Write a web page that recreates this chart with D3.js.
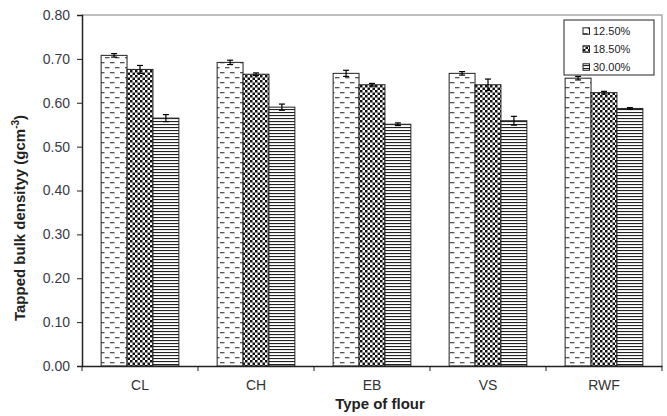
<!DOCTYPE html>
<html>
<head>
<meta charset="utf-8">
<script src="https://cdn.jsdelivr.net/npm/d3@7"></script>
<style>
  body { margin: 0; background: #fff; }
  svg { display: block; font-family: 'Liberation Sans', Arial, sans-serif; }
</style>
</head>
<body>
<div id="graf"></div>
<script>
const flours = ['CL', 'CH', 'EB', 'VS', 'RWF']
const series = ['12.50%', '18.50%', '30.00%']
const val125 = [0.708, 0.692, 0.667, 0.667, 0.656]
const val185 = [0.676, 0.665, 0.641, 0.641, 0.623]
const val300 = [0.565, 0.590, 0.551, 0.559, 0.587]
const err125 = [0.004, 0.005, 0.007, 0.004, 0.004]
const err185 = [0.009, 0.003, 0.003, 0.013, 0.003]
const err300 = [0.008, 0.007, 0.003, 0.010, 0.002]
const yTicks = [0, 0.1, 0.2, 0.3, 0.4, 0.5, 0.6, 0.7, 0.8]

const ancho = 667
const alto = 416
const margin = { top: 15, bottom: 50, left: 82, right: 5 }

const svg = d3.select('#graf')
  .append('svg')
  .attr('width', ancho)
  .attr('height', alto)

// patrones de relleno
const defs = svg.append('defs')

const p1 = defs.append('pattern')
  .attr('id', 'pat0')
  .attr('patternUnits', 'userSpaceOnUse')
  .attr('width', 10).attr('height', 10)
p1.append('rect').attr('width', 10).attr('height', 10).attr('fill', '#fff')
p1.append('rect').attr('x', 0).attr('y', 2).attr('width', 4.5).attr('height', 1.3).attr('fill', '#555')
p1.append('rect').attr('x', 5).attr('y', 7).attr('width', 4.5).attr('height', 1.3).attr('fill', '#555')

const p2 = defs.append('pattern')
  .attr('id', 'pat1')
  .attr('patternUnits', 'userSpaceOnUse')
  .attr('width', 5).attr('height', 5)
p2.append('rect').attr('width', 5).attr('height', 5).attr('fill', '#fff')
p2.append('rect').attr('width', 2.5).attr('height', 2.5).attr('fill', '#111')
p2.append('rect').attr('x', 2.5).attr('y', 2.5).attr('width', 2.5).attr('height', 2.5).attr('fill', '#111')

const p3 = defs.append('pattern')
  .attr('id', 'pat2')
  .attr('patternUnits', 'userSpaceOnUse')
  .attr('width', 6).attr('height', 3)
p3.append('rect').attr('width', 6).attr('height', 3).attr('fill', '#fff')
p3.append('rect').attr('y', 1).attr('width', 6).attr('height', 1.1).attr('fill', '#222')

const y = d3.scaleLinear()
  .domain([0, 0.8])
  .range([alto - margin.bottom, margin.top])

const x = d3.scaleBand()
  .domain(flours)
  .range([margin.left, ancho - margin.right])
  .paddingInner(0)
  .paddingOuter(0)

const grupo = x.bandwidth() * 0.67
const x1 = d3.scaleBand()
  .domain(series)
  .range([(x.bandwidth() - grupo) / 2, (x.bandwidth() + grupo) / 2])

const datos = []
flours.forEach((f, i) => {
  datos.push({ f: f, s: series[0], v: val125[i], e: err125[i] })
  datos.push({ f: f, s: series[1], v: val185[i], e: err185[i] })
  datos.push({ f: f, s: series[2], v: val300[i], e: err300[i] })
})

// marco gris
svg.append('path')
  .attr('d', `M${margin.left},${margin.top}H${ancho - margin.right}V${y(0)}`)
  .attr('fill', 'none')
  .attr('stroke', '#aaa')
  .attr('stroke-width', 1.5)

// barras
svg.selectAll('rect.bar')
  .data(datos)
  .enter()
  .append('rect')
  .attr('class', 'bar')
  .attr('x', d => x(d.f) + x1(d.s))
  .attr('y', d => y(d.v))
  .attr('width', x1.bandwidth())
  .attr('height', d => y(0) - y(d.v))
  .attr('fill', d => `url(#pat${series.indexOf(d.s)})`)
  .attr('stroke', '#222')
  .attr('stroke-width', 1)

// barras de error
const eb = svg.selectAll('g.err')
  .data(datos)
  .enter()
  .append('g')
  .attr('class', 'err')
  .attr('stroke', '#000')
  .attr('stroke-width', 1.2)
const cx = d => x(d.f) + x1(d.s) + x1.bandwidth() / 2
eb.append('line')
  .attr('x1', cx).attr('x2', cx)
  .attr('y1', d => y(d.v + d.e)).attr('y2', d => y(d.v - d.e))
eb.append('line')
  .attr('x1', d => cx(d) - 3).attr('x2', d => cx(d) + 3)
  .attr('y1', d => y(d.v + d.e)).attr('y2', d => y(d.v + d.e))
eb.append('line')
  .attr('x1', d => cx(d) - 3).attr('x2', d => cx(d) + 3)
  .attr('y1', d => y(d.v - d.e)).attr('y2', d => y(d.v - d.e))

// eje y
const yAxis = svg.append('g')
  .attr('transform', `translate(${margin.left},0)`)
  .call(d3.axisLeft(y).tickValues(yTicks).tickFormat(d3.format('.2f')).tickSize(5).tickPadding(7))
yAxis.select('.domain').attr('stroke', '#222').attr('stroke-width', 1.5)
yAxis.selectAll('.tick line').attr('stroke', '#222')
yAxis.selectAll('text')
  .attr('font-size', 14)
  .attr('fill', '#3a3a48')
  .attr('font-family', "'Liberation Sans', Arial, sans-serif")

// eje x
const xAxis = svg.append('g')
  .attr('transform', `translate(0,${y(0)})`)
  .call(d3.axisBottom(x).tickSize(0).tickPadding(14))
xAxis.select('.domain').attr('stroke', '#222').attr('stroke-width', 1.5)
xAxis.selectAll('text')
  .attr('font-size', 14)
  .attr('fill', '#333')
  .attr('font-family', "'Liberation Sans', Arial, sans-serif")

const bordes = flours.map(f => x(f)).concat([x.range()[1]])
svg.selectAll('line.xt')
  .data(bordes)
  .enter()
  .append('line')
  .attr('class', 'xt')
  .attr('x1', d => d).attr('x2', d => d)
  .attr('y1', y(0)).attr('y2', y(0) + 5)
  .attr('stroke', '#222')

// titulos
svg.append('text')
  .attr('x', 380)
  .attr('y', 409)
  .attr('text-anchor', 'middle')
  .attr('font-size', 15)
  .attr('font-weight', 'bold')
  .attr('fill', '#222')
  .text('Type of flour')

const yt = svg.append('text')
  .attr('transform', 'translate(25,218) rotate(-90)')
  .attr('text-anchor', 'middle')
  .attr('font-size', 15)
  .attr('font-weight', 'bold')
  .attr('fill', '#222')
yt.append('tspan').text('Tapped bulk densityy (gcm')
yt.append('tspan').attr('font-size', 10).attr('dy', -6).text('-3')
yt.append('tspan').attr('dy', 6).text(')')

// leyenda
const leg = svg.append('g')
leg.append('rect')
  .attr('x', 564).attr('y', 20)
  .attr('width', 90).attr('height', 55)
  .attr('fill', '#fff')
  .attr('stroke', '#222')
  .attr('stroke-width', 1)
const item = leg.selectAll('g.item')
  .data(series)
  .enter()
  .append('g')
  .attr('class', 'item')
  .attr('transform', (d, i) => `translate(583,${31 + i * 18})`)
item.append('rect')
  .attr('x', 0).attr('y', -3.2)
  .attr('width', 6.5).attr('height', 6.5)
  .attr('fill', (d, i) => `url(#pat${i})`)
  .attr('stroke', '#222')
item.append('text')
  .attr('x', 10)
  .attr('y', 4)
  .attr('font-size', 11)
  .attr('fill', '#222')
  .text(d => d)
</script>
</body>
</html>
